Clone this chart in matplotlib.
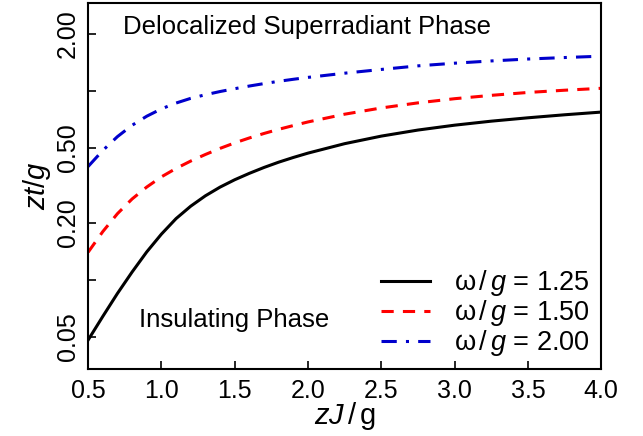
import matplotlib
matplotlib.use('Agg')
import matplotlib.pyplot as plt
from matplotlib.ticker import FixedLocator, FixedFormatter, NullLocator

plt.rcParams['font.family'] = ['Liberation Sans', 'DejaVu Sans']
plt.rcParams['mathtext.fontset'] = 'custom'
plt.rcParams['mathtext.rm'] = 'Liberation Sans'
plt.rcParams['mathtext.it'] = 'Liberation Sans:italic'

# values
zJ = [0.5, 0.6, 0.7, 0.8, 0.9, 1.0, 1.1, 1.2, 1.3, 1.4, 1.5, 1.6, 1.7, 1.8, 1.9,
      2.0, 2.25, 2.5, 2.75, 3.0, 3.25, 3.5, 3.75, 4.0]
zt_125 = [0.048, 0.064, 0.0847, 0.110, 0.1406, 0.1746, 0.211, 0.2455, 0.2786, 0.3097,
          0.3388, 0.3664, 0.3936, 0.4198, 0.4446, 0.4688, 0.526, 0.5768, 0.621, 0.659,
          0.692, 0.721, 0.748, 0.773]
zt_150 = [0.140, 0.180, 0.224, 0.268, 0.310, 0.351, 0.389, 0.4256, 0.461, 0.4966,
          0.531, 0.564, 0.5957, 0.6266, 0.656, 0.6855, 0.7534, 0.813, 0.865, 0.910,
          0.948, 0.982, 1.009, 1.033]
zt_200 = [0.398, 0.484, 0.573, 0.658, 0.735, 0.804, 0.863, 0.914, 0.955, 0.993,
          1.028, 1.062, 1.094, 1.125, 1.153, 1.180, 1.242, 1.300, 1.358, 1.403,
          1.442, 1.476, 1.503, 1.528]

labels = [r'$\mathrm{\omega}\,/\,g$ = 1.25', r'$\mathrm{\omega}\,/\,g$ = 1.50',
          r'$\mathrm{\omega}\,/\,g$ = 2.00']
y_ticks = [0.05, 0.1, 0.2, 0.5, 1.0, 2.0]
y_ticklabels = ['0.05', '', '0.20', '0.50', '', '2.00']
x_ticks = [0.5, 1.0, 1.5, 2.0, 2.5, 3.0, 3.5, 4.0]

fig = plt.figure(figsize=(6.43, 4.36), dpi=100)
ax = fig.add_axes([0.137, 0.154, 0.798, 0.839])

ax.plot(zJ, zt_125, color='black', lw=2.2, label=labels[0])
ax.plot(zJ, zt_150, color='red', lw=2.2, ls=(0, (4, 3)), label=labels[1])
ax.plot(zJ, zt_200, color='#0000cc', lw=2.2, ls=(0, (5, 3, 1, 3)), label=labels[2])

ax.set_yscale('log')
ax.set_xlim(0.5, 4.0)
ax.set_ylim(0.0338, 2.92)
ax.yaxis.set_major_locator(FixedLocator(y_ticks))
ax.yaxis.set_major_formatter(FixedFormatter(y_ticklabels))
ax.yaxis.set_minor_locator(NullLocator())
ax.set_xticks(x_ticks)
ax.set_xticklabels(['%.1f' % v for v in x_ticks])

ax.tick_params(direction='in', length=6, width=1.2, labelsize=18, top=False, right=False)
ax.tick_params(axis='x', pad=7)
ax.tick_params(axis='y', pad=6)
for lab in ax.get_yticklabels():
    lab.set_rotation(90)
    lab.set_va('center')
for s in ax.spines.values():
    s.set_linewidth(1.5)

ax.set_xlabel(r'$zJ\,/\,\mathrm{g}$', fontsize=21, labelpad=-2)
ax.set_ylabel(r'$zt/g$', fontsize=21, labelpad=2)

ax.text(0.068, 0.915, 'Delocalized Superradiant Phase', transform=ax.transAxes, fontsize=18.5)
ax.text(0.10, 0.115, 'Insulating Phase', transform=ax.transAxes, fontsize=18.5)

ax.legend(loc='lower right', bbox_to_anchor=(1.0, 0.0), frameon=False, fontsize=19.5,
          handlelength=1.8, borderaxespad=0.1, labelspacing=0.0, handletextpad=0.9,
          borderpad=0.3)

fig.savefig('out.png', dpi=100)
